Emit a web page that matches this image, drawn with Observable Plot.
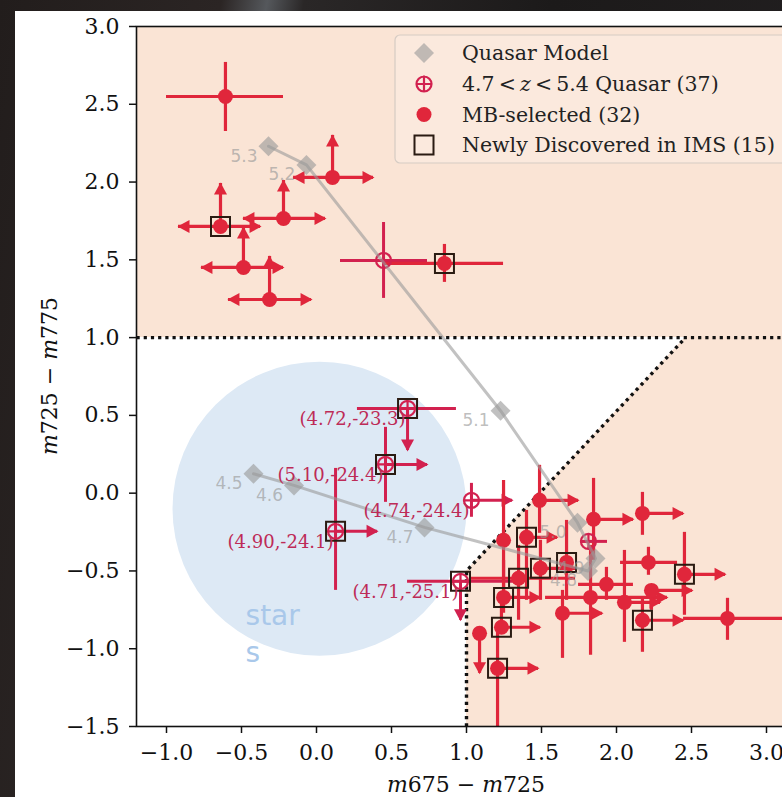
<!DOCTYPE html>
<html><head><meta charset="utf-8">
<script src="https://cdn.jsdelivr.net/npm/d3@7"></script>
<script src="https://cdn.jsdelivr.net/npm/@observablehq/plot@0.6"></script>
<style>
html,body{margin:0;padding:0;width:782px;height:797px;overflow:hidden;background:#1f1c1c;}
#bg{position:absolute;left:0;top:0;width:782px;height:797px;
 background:linear-gradient(100deg,#221d1c 0%,#2b2524 24%,#55585c 29%,#2a2727 33%,#1c1a1a 60%,#232021 100%);}
#panel{position:absolute;left:15px;top:11px;right:0;bottom:0;background:#ffffff;}
#chart{position:absolute;left:0;top:0;}
</style></head><body>
<div id="bg"></div><div id="panel"></div><div id="chart"></div>
<script>
// ---------- data ----------
const xTicks = [-1.0,-0.5,0.0,0.5,1.0,1.5,2.0,2.5,3.0];
const yTicks = [-1.5,-1.0,-0.5,0.0,0.5,1.0,1.5,2.0,2.5,3.0];
const xDomain = [-1.2, 3.2];
const yDomain = [-1.5, 3.0];

// selection boundaries
const cutX = [-1.2, 3.2];           // horizontal cut m725-m775 > 1.0
const cutY = [1.0, 1.0];
const wedgeX = [1.0, 1.0, 2.46];    // lower-right selection wedge
const wedgeY = [-1.5, -0.5, 1.0];

// stars region
const starsCircle = [0.02, -0.10];
const starsText = ["star\ns"];
const starsTextPos = [-0.473, -0.676];

// quasar model track
const modelZ = [4.5, 4.6, 4.7, 4.8, 4.9, 5.0, 5.1, 5.2, 5.3];
const modelX = [-0.42, -0.15, 0.72, 1.81, 1.86, 1.74, 1.227, -0.067, -0.32];
const modelY = [0.125, 0.05, -0.22, -0.50, -0.42, -0.19, 0.53, 2.11, 2.23];

// MB-selected (filled)
const mbX = [-0.607,0.107,-0.220,-0.640,-0.487,-0.313,0.853, 1.487,1.847,2.173,1.247,1.400,1.493,1.667,1.347,1.247,1.233,1.087,1.207,1.640,1.827,1.933,2.053,2.213,2.233,2.453,2.173,2.740];
const mbY = [2.550,2.030,1.766,1.715,1.451,1.245,1.477, -0.046,-0.168,-0.130,-0.303,-0.284,-0.483,-0.445,-0.547,-0.670,-0.862,-0.901,-1.126,-0.772,-0.670,-0.586,-0.702,-0.445,-0.625,-0.522,-0.817,-0.805];
const mbXLo = [-1.000,-0.153,-0.487,-0.920,-0.767,-0.587,0.460, null,null,null,null,null,null,null,1.027,null,null,null,null,null,1.527,1.747,null,2.027,null,null,null,2.447];
const mbXHi = [-0.220,0.380,0.060,-0.373,-0.220,-0.033,1.247, 1.747,2.113,2.447,null,1.607,1.727,null,1.727,1.493,1.493,null,1.480,1.907,2.340,2.113,2.293,2.407,2.507,2.727,2.447,3.227];
const mbYLo = [2.325,null,null,null,null,null,1.355, -0.258,-0.432,-0.271,-0.772,-0.689,-0.689,-0.689,-0.817,null,null,-1.158,-1.500,-1.062,-1.042,-0.689,-0.959,-0.528,-0.753,-0.785,-1.023,-0.946];
const mbYHi = [2.769,2.300,2.010,1.991,1.708,1.522,1.599, 0.179,0.095,0.005,0.082,-0.111,-0.303,-0.175,-0.336,-0.432,-0.689,null,-0.862,-0.625,-0.336,-0.477,-0.368,-0.348,null,-0.252,-0.670,-0.676];
const mbLimits = ["","LRU","LRU","LRU","LRU","LRU","", "R","R","R","","R","R","","","R","R","D","R","R","R","","R","","R","R","R",""];
const mbIMS = [0,0,0,1,0,0,1, 0,0,0,0,1,1,1,1,1,1,0,1,0,0,0,0,0,0,1,1,0];

// 4.7<z<5.4 quasars (open markers)
const qX = [0.607,0.460,0.127,1.033,0.960,0.447,1.813];
const qY = [0.545,0.185,-0.245,-0.046,-0.567,1.496,-0.310];
const qXLo = [0.273,null,null,null,0.607,0.160,1.760];
const qXHi = [0.933,0.740,0.407,1.307,1.313,0.740,1.940];
const qYLo = [0.275,-0.059,-0.625,-0.155,-0.817,1.252,null];
const qYHi = [null,0.423,0.159,0.063,null,1.740,null];
const qLimits = ["D","R","R","R","D","",""];
const qIMS = [1,1,1,0,1,0,0];
const qLabels = ["(4.72,-23.3)","(5.10,-24.4)","(4.90,-24.1)","(4.74,-24.4)","(4.71,-25.1)","",""];

const legendLabels = ["Quasar Model", "4.7 < z < 5.4 Quasar (37)", "MB-selected (32)", "Newly Discovered in IMS (15)"];

// ---------- styles ----------
const PEACH = "#fae4d5", BLUE = "#dde9f5", MB = "#e0263b", QC = "#d2214f", QTXT = "#bd2b57", GRAY = "#999999";

// custom symbols (tip / centre at origin)
const sym = f => ({draw(c){ f(c); }});
const caretUp = sym(c => {c.moveTo(0,-1); c.lineTo(-6.5,11); c.lineTo(6.5,11); c.closePath();});
const caretDown = sym(c => {c.moveTo(0,1); c.lineTo(-6.5,-11); c.lineTo(6.5,-11); c.closePath();});
const caretRight = sym(c => {c.moveTo(1,0); c.lineTo(-11,-6.5); c.lineTo(-11,6.5); c.closePath();});
const caretLeft = sym(c => {c.moveTo(-1,0); c.lineTo(11,-6.5); c.lineTo(11,6.5); c.closePath();});
const diamondSym = sym(c => {c.moveTo(0,-10); c.lineTo(10,0); c.lineTo(0,10); c.lineTo(-10,0); c.closePath();});
const squareSym = sym(c => {c.rect(-9.5,-9.5,19,19);});
const oplusSym = sym(c => {c.moveTo(7.5,0); c.arc(0,0,7.5,0,2*Math.PI); c.moveTo(-8.5,0); c.lineTo(8.5,0); c.moveTo(0,-8.5); c.lineTo(0,8.5);});

// ---------- tables ----------
const mb = mbX.map((x,i) => ({x, y: mbY[i], xl: mbXLo[i], xr: mbXHi[i], yb: mbYLo[i], yt: mbYHi[i], lim: mbLimits[i], ims: mbIMS[i]}));
const qs = qX.map((x,i) => ({x, y: qY[i], xl: qXLo[i], xr: qXHi[i], yb: qYLo[i], yt: qYHi[i], lim: qLimits[i], ims: qIMS[i], label: qLabels[i]}));
const model = modelZ.map((z,i) => ({z, x: modelX[i], y: modelY[i]}));
const upper = cutX.map((x,i) => ({x, y1: cutY[i], y2: yDomain[1]}));
const wedgeFill = [{x: wedgeX[1], y2: wedgeY[1]}, {x: wedgeX[2], y2: wedgeY[2]}, {x: xDomain[1], y2: cutY[1]}];
const cutLine = cutX.map((x,i) => ({x, y: cutY[i]}));
const wedgeLine = wedgeX.map((x,i) => ({x, y: wedgeY[i]}));

function heads(rows){
  const out = [];
  for (const d of rows) for (const k of d.lim) {
    if (k === "U") out.push({x: d.x, y: d.yt, k});
    if (k === "D") out.push({x: d.x, y: d.yb, k});
    if (k === "L") out.push({x: d.xl, y: d.y, k});
    if (k === "R") out.push({x: d.xr, y: d.y, k});
  }
  return out;
}
const hb = rows => rows.filter(d => d.xl != null || d.xr != null);
const vb = rows => rows.filter(d => d.yb != null || d.yt != null);
function barMarks(rows, color, w){
  const H = heads(rows);
  const sy = {U: caretUp, D: caretDown, L: caretLeft, R: caretRight};
  return [
    Plot.ruleY(hb(rows), {y: "y", x1: d => d.xl ?? d.x, x2: d => d.xr ?? d.x, stroke: color, strokeWidth: w, clip: true}),
    Plot.ruleX(vb(rows), {x: "x", y1: d => d.yb ?? d.y, y2: d => d.yt ?? d.y, stroke: color, strokeWidth: w, clip: true}),
    ...Object.keys(sy).map(k => Plot.dot(H.filter(h => h.k === k), {x: "x", y: "y", symbol: sy[k], fill: color, stroke: "none", r: 6}))
  ];
}
const dotted = {stroke: "#111", strokeWidth: 3.4, strokeDasharray: "3.2,4", strokeLinecap: "butt"};

const chart = Plot.plot({
  width: 796, height: 797,
  marginLeft: 136, marginRight: 0, marginTop: 26, marginBottom: 71,
  x: {domain: xDomain}, y: {domain: yDomain},
  style: {background: "transparent", maxWidth: "none", fontFamily: "DejaVu Serif", color: "#111", overflow: "visible"},
  marks: [
    Plot.areaY(upper, {x: "x", y1: "y1", y2: "y2", fill: PEACH}),
    Plot.areaY(wedgeFill, {x: "x", y1: yDomain[0], y2: "y2", fill: PEACH}),
    Plot.dot([starsCircle], {x: d => d[0], y: d => d[1], r: 147, fill: BLUE, stroke: "none"}),
    Plot.text(starsText, {x: starsTextPos[0], y: starsTextPos[1], text: d => d, textAnchor: "start", lineAnchor: "top", lineHeight: 1.32, fontSize: 28, fontFamily: "DejaVu Sans", fill: "#a9c8ea"}),
    Plot.line(cutLine, {x: "x", y: "y", ...dotted}),
    Plot.line(wedgeLine, {x: "x", y: "y", ...dotted}),
    ...barMarks(qs, QC, 3),
    ...barMarks(mb, MB, 3.2),
    Plot.dot(qs, {x: "x", y: "y", symbol: oplusSym, fill: "none", stroke: QC, strokeWidth: 2.2}),
    Plot.dot(mb, {x: "x", y: "y", r: 7.5, fill: MB, stroke: "none"}),
    Plot.dot([...mb, ...qs].filter(d => d.ims), {x: "x", y: "y", symbol: squareSym, fill: "none", stroke: "#2a1b12", strokeWidth: 2}),
    Plot.line(model, {x: "x", y: "y", stroke: GRAY, strokeOpacity: 0.6, strokeWidth: 3}),
    Plot.dot(model, {x: "x", y: "y", symbol: diamondSym, fill: GRAY, fillOpacity: 0.62, stroke: "none"}),
    Plot.text(model, {x: "x", y: "y", text: d => d3.format(".1f")(d.z), textAnchor: "end", dx: -11, dy: 10, fontSize: 17, fontFamily: "DejaVu Sans", fill: GRAY, fillOpacity: 0.65}),
    Plot.text(qs.filter(d => d.label), {x: "x", y: "y", text: "label", textAnchor: "end", lineAnchor: "top", dx: -2, dy: 4, fontSize: 18, fontFamily: "DejaVu Serif", fill: QTXT}),
    Plot.frame({stroke: "#111", strokeWidth: 1.6}),
    Plot.axisX({ticks: xTicks, tickFormat: d3.format(".1f"), tickSize: 7, tickPadding: 11, fontSize: 22, label: null, strokeWidth: 1.5}),
    Plot.axisY({ticks: yTicks, tickFormat: d3.format(".1f"), tickSize: 7, tickPadding: 10, fontSize: 22, label: null, strokeWidth: 1.5})
  ]
});
document.getElementById("chart").appendChild(chart);

// ---------- axis titles & legend ----------
const svg = d3.select(chart);
function mathLabel(sel, a, b){
  sel.append("tspan").attr("font-style", "italic").text("m");
  sel.append("tspan").text(a + " \u2212 ");
  sel.append("tspan").attr("font-style", "italic").text("m");
  sel.append("tspan").text(b);
}
const xl = svg.append("text").attr("x", 466).attr("y", 792).attr("text-anchor", "middle")
  .attr("font-family", "DejaVu Serif").attr("font-size", 22).attr("fill", "#111");
mathLabel(xl, "675", "725");
const yl = svg.append("text").attr("transform", "translate(57,376) rotate(-90)").attr("text-anchor", "middle")
  .attr("font-family", "DejaVu Serif").attr("font-size", 22).attr("fill", "#111");
mathLabel(yl, "725", "775");

const lg = svg.append("g").attr("text-anchor", "start");
lg.append("rect").attr("x", 395).attr("y", 35).attr("width", 420).attr("height", 128).attr("rx", 5)
  .attr("fill", "#fbe9dd").attr("stroke", "#d6ccc4").attr("stroke-width", 1.2);
const rowsY = [53, 84, 114.5, 145];
const path = s => { const p = d3.path(); s.draw(p); return p.toString(); };
lg.append("path").attr("d", path(diamondSym)).attr("transform", `translate(424,${rowsY[0]})`).attr("fill", GRAY).attr("fill-opacity", 0.6);
lg.append("path").attr("d", path(oplusSym)).attr("transform", `translate(424,${rowsY[1]})`).attr("fill", "none").attr("stroke", QC).attr("stroke-width", 2.2);
lg.append("circle").attr("cx", 424).attr("cy", rowsY[2]).attr("r", 7.5).attr("fill", MB);
lg.append("path").attr("d", path(squareSym)).attr("transform", `translate(424,${rowsY[3]})`).attr("fill", "none").attr("stroke", "#2a1b12").attr("stroke-width", 2);
legendLabels.forEach((t, i) => {
  const tx = lg.append("text").attr("x", 462).attr("y", rowsY[i]).attr("dy", "0.35em").attr("text-anchor", "start")
    .attr("font-family", "DejaVu Serif").attr("font-size", 20.5).attr("fill", "#222");
  if (t.includes(" z ")) {
    const [a, b] = t.split(" z ");
    tx.append("tspan").text(a.replace(" <", "\u2009<") + "\u2009");
    tx.append("tspan").attr("font-style", "italic").text("z");
    tx.append("tspan").text("\u2009" + b.replace("< ", "<\u2009"));
  } else tx.text(t);
});
</script></body></html>
